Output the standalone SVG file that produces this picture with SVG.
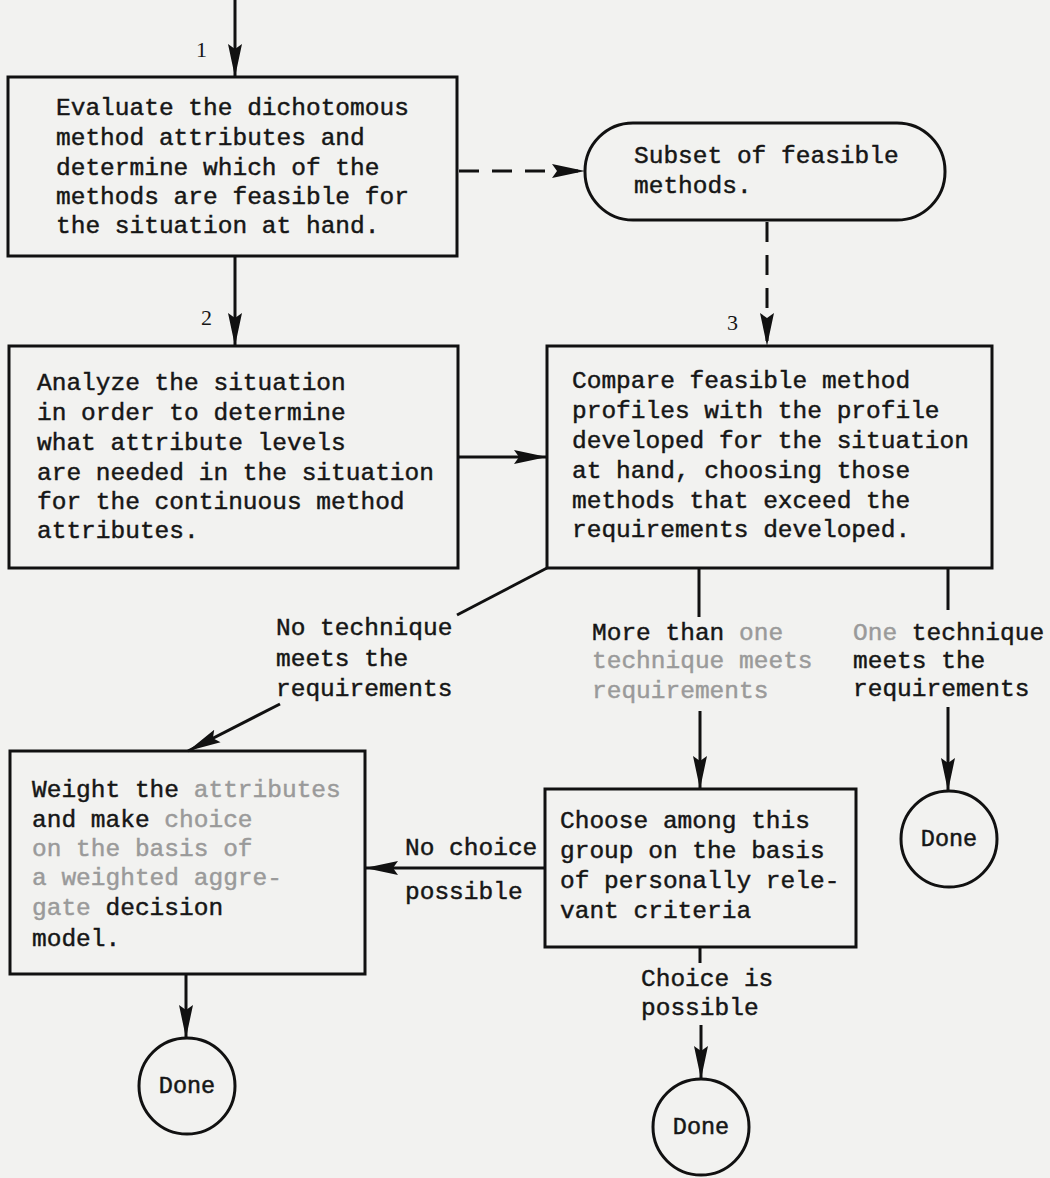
<svg xmlns="http://www.w3.org/2000/svg" width="1050" height="1178" viewBox="0 0 1050 1178">
<style>
.bg{fill:#f2f2f0}
.box{fill:none;stroke:#111;stroke-width:3}
.ln{fill:none;stroke:#111;stroke-width:3}
.dash{stroke-dasharray:20 13}
.t{font-family:"Liberation Mono","DejaVu Sans Mono",monospace;font-size:24.5px;fill:#161616;stroke:#161616;stroke-width:0.45}
.n{font-family:"Liberation Serif","DejaVu Serif",serif;font-size:22px;fill:#161616}
.f{fill:#9a9a9a;stroke:#9a9a9a}
.d{font-family:"Liberation Mono","DejaVu Sans Mono",monospace;font-size:23.5px;fill:#161616;stroke:#161616;stroke-width:0.5;text-anchor:middle}
</style>
<defs>
<marker id="ah" markerUnits="userSpaceOnUse" markerWidth="34" markerHeight="16" refX="33" refY="8" orient="auto" viewBox="0 0 34 16">
<path d="M0,1 L33,8 L0,15 L5,8 z" fill="#111"/>
</marker>
</defs>
<rect class="bg" x="0" y="0" width="1050" height="1178"/>

<g id="connectors">
<line class="ln" x1="235" y1="0" x2="235" y2="77" marker-end="url(#ah)"/>
<line class="ln" x1="235" y1="256" x2="235" y2="346" marker-end="url(#ah)"/>
<line class="ln dash" x1="459" y1="171" x2="585" y2="171" marker-end="url(#ah)"/>
<line class="ln dash" x1="767" y1="222" x2="767" y2="346" marker-end="url(#ah)"/>
<line class="ln" x1="458" y1="457" x2="547" y2="457" marker-end="url(#ah)"/>
<line class="ln" x1="547" y1="568" x2="457" y2="615"/>
<line class="ln" x1="280" y1="704" x2="188" y2="751" marker-end="url(#ah)"/>
<line class="ln" x1="699" y1="568" x2="699" y2="617"/>
<line class="ln" x1="700" y1="711" x2="700" y2="789" marker-end="url(#ah)"/>
<line class="ln" x1="948" y1="568" x2="948" y2="610"/>
<line class="ln" x1="948" y1="707" x2="948" y2="791" marker-end="url(#ah)"/>
<line class="ln" x1="545" y1="868" x2="365" y2="868" marker-end="url(#ah)"/>
<line class="ln" x1="700" y1="947" x2="700" y2="963"/>
<line class="ln" x1="701" y1="1025" x2="701" y2="1079" marker-end="url(#ah)"/>
<line class="ln" x1="186" y1="974" x2="186" y2="1038" marker-end="url(#ah)"/>
</g>

<g id="labels">
<text class="n" x="196" y="57">1</text>
<text class="n" x="201" y="325">2</text>
<text class="n" x="727" y="330">3</text>
<text class="t" x="276" y="635">No technique</text>
<text class="t" x="276" y="666">meets the</text>
<text class="t" x="276" y="696">requirements</text>
<text class="t" x="592" y="640">More than <tspan class="f">one</tspan></text>
<text class="t f" x="592" y="668">technique meets</text>
<text class="t f" x="592" y="698">requirements</text>
<text class="t" x="853" y="640"><tspan class="f">One</tspan> technique</text>
<text class="t" x="853" y="668">meets the</text>
<text class="t" x="853" y="696">requirements</text>
<text class="t" x="405" y="855">No choice</text>
<text class="t" x="405" y="899">possible</text>
<text class="t" x="641" y="986">Choice is</text>
<text class="t" x="641" y="1015">possible</text>
</g>

<g id="node1">
<rect class="box" x="8" y="77" width="449" height="179"/>
<text class="t" x="56" y="115">Evaluate the dichotomous</text>
<text class="t" x="56" y="145">method attributes and</text>
<text class="t" x="56" y="175">determine which of the</text>
<text class="t" x="56" y="204">methods are feasible for</text>
<text class="t" x="56" y="233">the situation at hand.</text>
</g>

<g id="subset">
<rect class="box" x="585" y="123" width="360" height="97" rx="48" ry="48"/>
<text class="t" x="634" y="163">Subset of feasible</text>
<text class="t" x="634" y="193">methods.</text>
</g>

<g id="node2">
<rect class="box" x="9" y="346" width="449" height="222"/>
<text class="t" x="37" y="390">Analyze the situation</text>
<text class="t" x="37" y="420">in order to determine</text>
<text class="t" x="37" y="450">what attribute levels</text>
<text class="t" x="37" y="480">are needed in the situation</text>
<text class="t" x="37" y="509">for the continuous method</text>
<text class="t" x="37" y="538">attributes.</text>
</g>

<g id="node3">
<rect class="box" x="547" y="346" width="445" height="222"/>
<text class="t" x="572" y="388">Compare feasible method</text>
<text class="t" x="572" y="418">profiles with the profile</text>
<text class="t" x="572" y="448">developed for the situation</text>
<text class="t" x="572" y="478">at hand, choosing those</text>
<text class="t" x="572" y="508">methods that exceed the</text>
<text class="t" x="572" y="537">requirements developed.</text>
</g>

<g id="node4">
<rect class="box" x="10" y="751" width="355" height="223"/>
<text class="t" x="32" y="797">Weight the <tspan class="f">attributes</tspan></text>
<text class="t" x="32" y="827">and make <tspan class="f">choice</tspan></text>
<text class="t f" x="32" y="856">on the basis of</text>
<text class="t f" x="32" y="885">a weighted aggre-</text>
<text class="t" x="32" y="915"><tspan class="f">gate</tspan> decision</text>
<text class="t" x="32" y="946">model.</text>
</g>

<g id="node5">
<rect class="box" x="545" y="789" width="311" height="158"/>
<text class="t" x="560" y="828">Choose among this</text>
<text class="t" x="560" y="858">group on the basis</text>
<text class="t" x="560" y="888">of personally rele-</text>
<text class="t" x="560" y="918">vant criteria</text>
</g>

<g id="done1">
<circle class="box" cx="187" cy="1086" r="48"/>
<text class="d" x="187" y="1093">Done</text>
</g>
<g id="done2">
<circle class="box" cx="949" cy="839" r="48"/>
<text class="d" x="949" y="846">Done</text>
</g>
<g id="done3">
<circle class="box" cx="701" cy="1127" r="48"/>
<text class="d" x="701" y="1134">Done</text>
</g>
</svg>
